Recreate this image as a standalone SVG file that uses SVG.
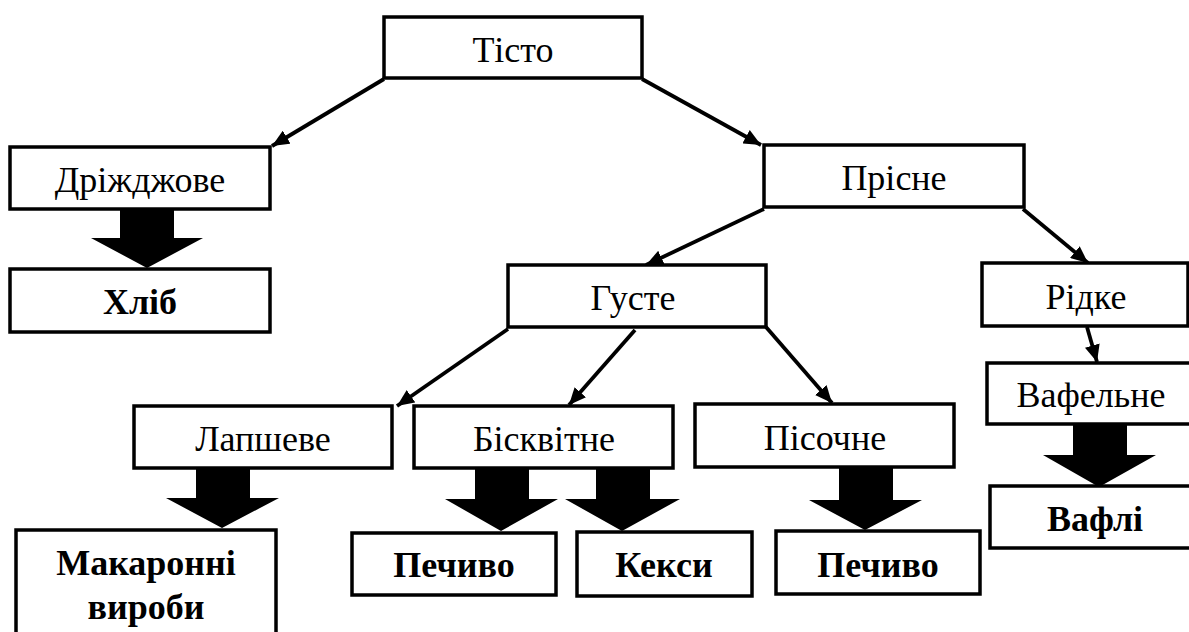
<svg xmlns="http://www.w3.org/2000/svg" width="1189" height="632" viewBox="0 0 1189 632">
<defs>
<marker id="ah" markerWidth="4.5" markerHeight="4" refX="4.5" refY="2" orient="auto" markerUnits="strokeWidth">
<path d="M0,0 L4.5,2 L0,4 Z" fill="#000"/>
</marker>
</defs>
<rect width="1189" height="632" fill="#fff"/>
<g id="connectors" fill="#000">
<g stroke="#000" stroke-width="3.8" fill="none" marker-end="url(#ah)">
<line x1="384" y1="79" x2="272" y2="146"/>
<line x1="642" y1="79" x2="761" y2="145"/>
<line x1="764" y1="209" x2="646" y2="265"/>
<line x1="1023" y1="209" x2="1088" y2="263"/>
<line x1="508" y1="329" x2="397" y2="406"/>
<line x1="635" y1="330" x2="569" y2="405"/>
<line x1="766" y1="327" x2="832" y2="403"/>
<line x1="1087" y1="327" x2="1097" y2="362"/>
</g>
<polygon points="120,209 174,209 174,238 203,238 147,268 91,238 120,238"/>
<polygon points="196,468 250,468 250,498 279,498 222,528 166,498 196,498"/>
<polygon points="475,468 529,468 529,499 558,499 501,531 445,499 475,499"/>
<polygon points="596,468 650,468 650,499 680,499 622,531 565,499 596,499"/>
<polygon points="839,467 893,467 893,500 922,500 865,530 809,500 839,500"/>
<polygon points="1073,425 1127,425 1127,455 1156,455 1099,487 1043,455 1073,455"/>
</g>
<g id="nodes" fill="#fff" stroke="#000" stroke-width="3.5">
<g id="n-tisto"><rect x="384" y="17" width="258" height="61"/><text font-family="Liberation Serif" font-size="36" text-anchor="middle" fill="#000" stroke="none" x="513" y="62">Тісто</text></g>
<g id="n-drizhdzhove"><rect x="10" y="147" width="260" height="62"/><text font-family="Liberation Serif" font-size="36" text-anchor="middle" fill="#000" stroke="none" x="140" y="192">Дріжджове</text></g>
<g id="n-khlib"><rect x="10" y="269" width="260" height="63"/><text font-family="Liberation Serif" font-size="36" font-weight="bold" text-anchor="middle" fill="#000" stroke="none" x="140" y="314">Хліб</text></g>
<g id="n-prisne"><rect x="764" y="145" width="260" height="62"/><text font-family="Liberation Serif" font-size="36" text-anchor="middle" fill="#000" stroke="none" x="894" y="190">Прісне</text></g>
<g id="n-guste"><rect x="508" y="265" width="258" height="62"/><text font-family="Liberation Serif" font-size="36" text-anchor="middle" fill="#000" stroke="none" x="633" y="310">Густе</text></g>
<g id="n-ridke"><rect x="982" y="263" width="206" height="63"/><text font-family="Liberation Serif" font-size="36" text-anchor="middle" fill="#000" stroke="none" x="1086" y="309">Рідке</text></g>
<g id="n-lapsheve"><rect x="134" y="406" width="258" height="62"/><text font-family="Liberation Serif" font-size="36" text-anchor="middle" fill="#000" stroke="none" x="263" y="451">Лапшеве</text></g>
<g id="n-biskvitne"><rect x="414" y="406" width="259" height="62"/><text font-family="Liberation Serif" font-size="36" text-anchor="middle" fill="#000" stroke="none" x="544" y="451">Бісквітне</text></g>
<g id="n-pisochne"><rect x="695" y="404" width="259" height="63"/><text font-family="Liberation Serif" font-size="36" text-anchor="middle" fill="#000" stroke="none" x="825" y="450">Пісочне</text></g>
<g id="n-vafelne"><rect x="987" y="363" width="220" height="61"/><text font-family="Liberation Serif" font-size="36" text-anchor="middle" fill="#000" stroke="none" x="1091" y="407">Вафельне</text></g>
<g id="n-vafli"><rect x="990" y="486" width="220" height="62"/><text font-family="Liberation Serif" font-size="36" font-weight="bold" text-anchor="middle" fill="#000" stroke="none" x="1095" y="531">Вафлі</text></g>
<g id="n-makaronni"><rect x="16" y="530" width="260" height="120"/><text font-family="Liberation Serif" font-size="36" font-weight="bold" text-anchor="middle" fill="#000" stroke="none" x="146" y="575">Макаронні</text><text font-family="Liberation Serif" font-size="36" font-weight="bold" text-anchor="middle" fill="#000" stroke="none" x="146" y="619">вироби</text></g>
<g id="n-pechyvo1"><rect x="352" y="533" width="204" height="62"/><text font-family="Liberation Serif" font-size="36" font-weight="bold" text-anchor="middle" fill="#000" stroke="none" x="454" y="577">Печиво</text></g>
<g id="n-keksy"><rect x="577" y="532" width="175" height="64"/><text font-family="Liberation Serif" font-size="36" font-weight="bold" text-anchor="middle" fill="#000" stroke="none" x="664" y="577">Кекси</text></g>
<g id="n-pechyvo2"><rect x="776" y="531" width="204" height="63"/><text font-family="Liberation Serif" font-size="36" font-weight="bold" text-anchor="middle" fill="#000" stroke="none" x="878" y="577">Печиво</text></g>
</g>
</svg>
